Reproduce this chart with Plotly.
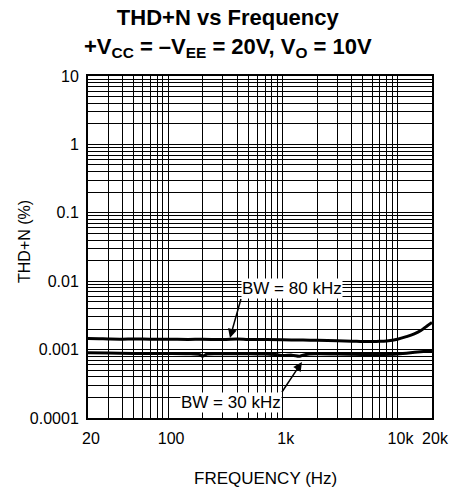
import plotly.graph_objects as go

# ---- data ----
freq80 = [20, 25, 30, 40, 50, 70, 100, 150, 200, 300, 400, 500, 700, 1000, 1500,
          2000, 3000, 4000, 5000, 6000, 7000, 8000, 10000, 12000, 14000, 16000, 18000, 20000]
thd80 = [0.00145, 0.00144, 0.00143, 0.00142, 0.00143, 0.00142, 0.00142, 0.00141, 0.00142,
         0.00140, 0.00143, 0.00141, 0.00140, 0.00139, 0.00138, 0.00137, 0.00135, 0.00133,
         0.00131, 0.00131, 0.00132, 0.00134, 0.00142, 0.00155, 0.00170, 0.00190, 0.00220, 0.00250]

freq30 = [20, 30, 50, 70, 100, 150, 190, 200, 220, 300, 500, 700, 900, 1000, 1200,
          1400, 1500, 1700, 2000, 3000, 5000, 7000, 10000, 15000, 20000]
thd30 = [0.00090, 0.00089, 0.00088, 0.00088, 0.00088, 0.00087, 0.00084, 0.00080, 0.00086,
         0.00087, 0.00087, 0.00086, 0.00084, 0.00082, 0.00083, 0.00080, 0.00083, 0.00086,
         0.00087, 0.00086, 0.00085, 0.00085, 0.00086, 0.00092, 0.00096]

x_ticks = [20, 100, 1000, 10000, 20000]
x_ticktext = ["20", "100", "1k", "10k", "20k"]
x_minor = [m * 10 ** e for e in (1, 2, 3) for m in range(1, 10) if m * 10 ** e >= 20] + [10000]
y_ticks = [0.0001, 0.001, 0.01, 0.1, 1, 10]
y_ticktext = ["0.0001", "0.001", "0.01", "0.1", "1", "10"]
y_minor = [m * 10.0 ** e for e in (-4, -3, -2, -1, 0) for m in range(2, 10)]

label80 = "BW = 80 kHz"
label30 = "BW = 30 kHz"
title_text = ("<b>THD+N vs Frequency</b><br>"
              "<b>+V<sub>CC</sub> = \u2013V<sub>EE</sub> = 20V, V<sub>O</sub> = 10V</b>")
xtitle = "FREQUENCY (Hz)"
ytitle = "THD+N (%)"

FONT = "Liberation Sans, Arial, sans-serif"

fig = go.Figure()
fig.add_trace(go.Scatter(x=freq80, y=thd80, mode="lines",
                         line=dict(color="black", width=3), line_shape="spline",
                         showlegend=False, hoverinfo="skip"))
fig.add_trace(go.Scatter(x=freq30, y=thd30, mode="lines",
                         line=dict(color="black", width=3), line_shape="spline",
                         showlegend=False, hoverinfo="skip"))

fig.update_layout(
    width=459, height=489,
    margin=dict(l=88, r=27, t=76, b=71),
    paper_bgcolor="white", plot_bgcolor="white",
    font=dict(family=FONT, size=16, color="black"),
    showlegend=False, hovermode=False,
)
grid = dict(showgrid=True, gridcolor="black", gridwidth=1)
fig.update_xaxes(
    type="log", range=[1.30103, 4.30103],
    tickvals=x_ticks, ticktext=x_ticktext,
    showgrid=True, gridcolor="black", gridwidth=1,
    minor=dict(tickvals=x_minor, ticks="", **grid),
    showline=True, linecolor="black", linewidth=2, mirror=True,
    ticks="", ticklabelstandoff=5, ticklabelshift=3, zeroline=False, automargin=False,
)
fig.update_yaxes(
    type="log", range=[-4, 1],
    tickvals=y_ticks, ticktext=y_ticktext,
    showgrid=True, gridcolor="black", gridwidth=1,
    minor=dict(tickvals=y_minor, ticks="", **grid),
    showline=True, linecolor="black", linewidth=2, mirror=True,
    ticks="", ticklabelstandoff=4, zeroline=False, automargin=False,
)

# titles
fig.add_annotation(xref="paper", yref="paper", x=0.407, y=1, xanchor="center",
                   yanchor="top", yshift=73, showarrow=False,
                   text=title_text, font=dict(size=22))
fig.add_annotation(xref="paper", yref="paper", x=0.515, y=0, xanchor="center",
                   yanchor="middle", yshift=-60, showarrow=False,
                   text=xtitle, font=dict(size=17))
fig.add_annotation(xref="paper", yref="paper", x=0, y=0.5, xanchor="center",
                   yanchor="middle", xshift=-64, yshift=5, textangle=-90,
                   showarrow=False, text=ytitle, font=dict(size=16))

# curve labels with white background; arrows point at the curves
fig.add_annotation(x=2.539, y=-2.83, xref="x", yref="y", text=label80, showarrow=True,
                   ax=11, ay=-39, xanchor="left", yanchor="bottom",
                   bgcolor="white", borderpad=0, font=dict(size=17),
                   arrowhead=2, arrowsize=1.2, arrowwidth=1.5, arrowcolor="black")
fig.add_annotation(x=3.167, y=-3.181, xref="x", yref="y", text=label30, showarrow=True,
                   ax=-20, ay=30, xanchor="right", yanchor="top",
                   bgcolor="white", borderpad=0, font=dict(size=17),
                   arrowhead=2, arrowsize=1.2, arrowwidth=1.5, arrowcolor="black")

# remove the default page margin so the figure sits at the window's corner
fig.write_html("out.html", config={"displayModeBar": False, "staticPlot": True},
               post_script="document.body.style.margin='0';")
